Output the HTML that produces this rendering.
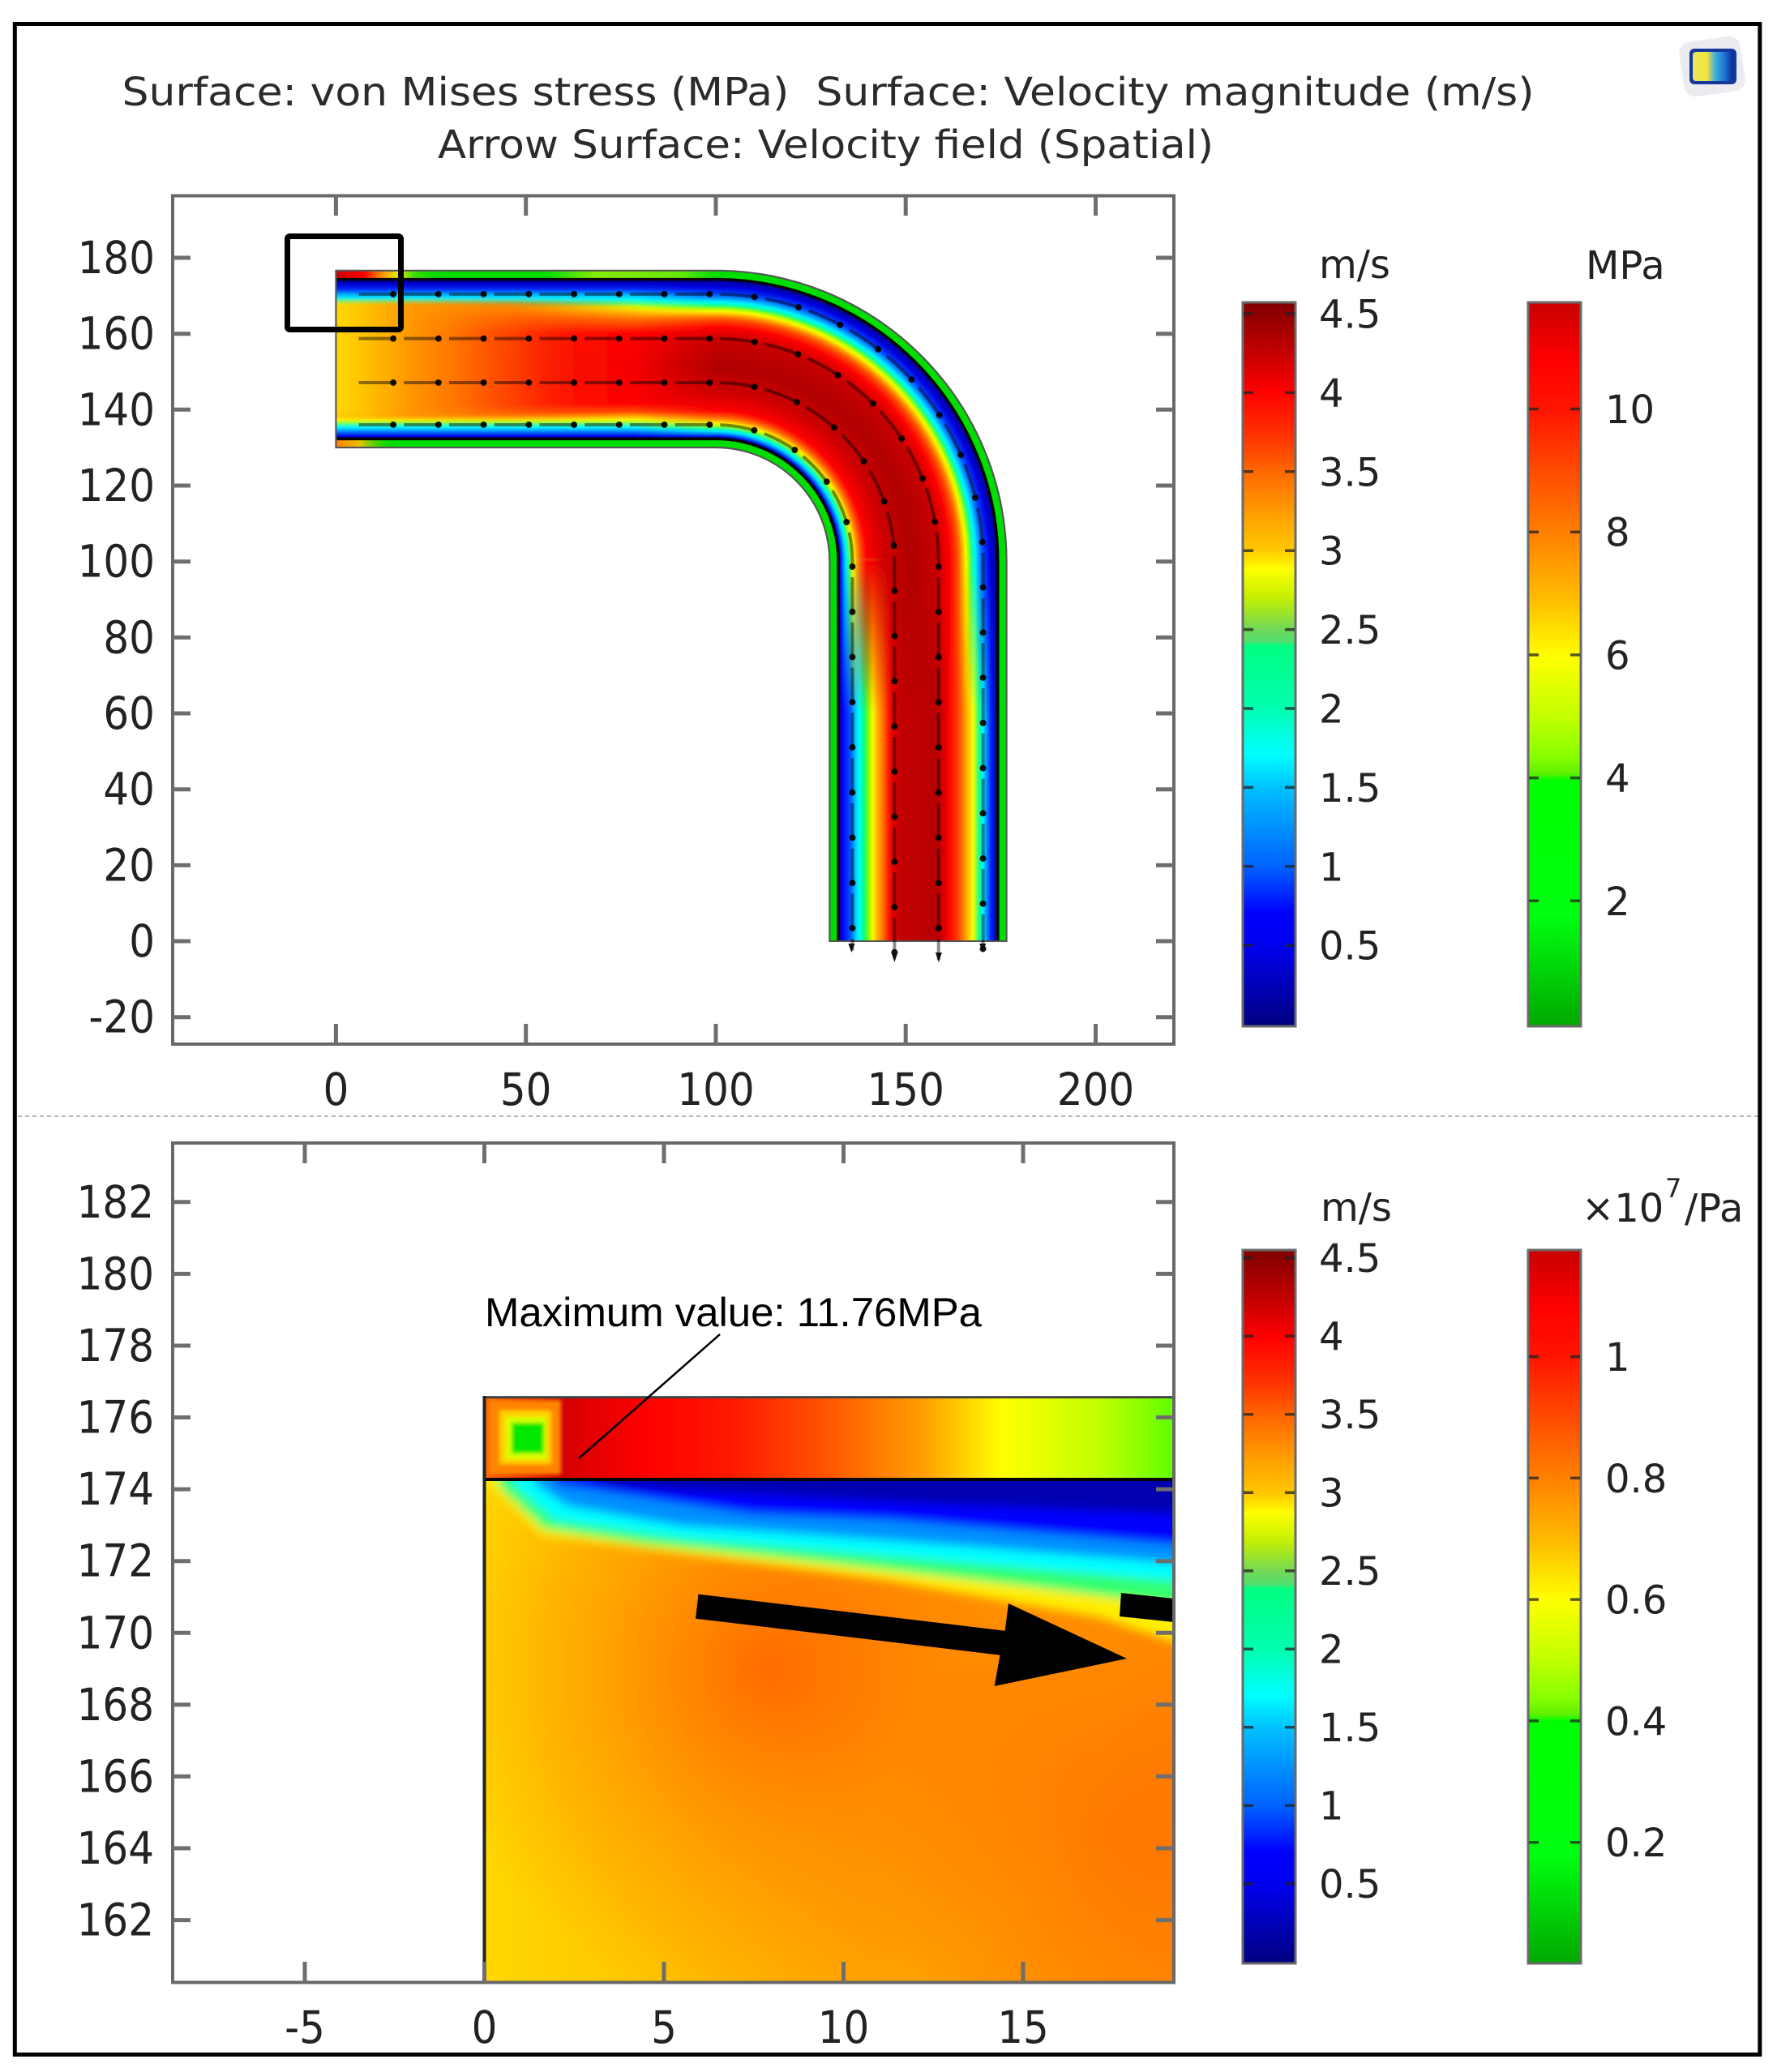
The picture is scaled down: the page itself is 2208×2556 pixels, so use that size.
<!DOCTYPE html>
<html><head><meta charset="utf-8"><style>html,body{margin:0;padding:0;background:#fff}svg{display:block}</style></head>
<body>
<svg xmlns="http://www.w3.org/2000/svg" xmlns:xlink="http://www.w3.org/1999/xlink" width="2208" height="2556" viewBox="0 0 2208 2556">
<defs>
  <linearGradient id="jet" x1="0" y1="0" x2="0" y2="1">
    <stop offset="0" stop-color="#7f0000"/><stop offset="0.077" stop-color="#cc0000"/>
    <stop offset="0.123" stop-color="#ff0000"/><stop offset="0.186" stop-color="#ff3300"/>
    <stop offset="0.232" stop-color="#ff6600"/><stop offset="0.287" stop-color="#ff9900"/>
    <stop offset="0.342" stop-color="#ffc800"/><stop offset="0.368" stop-color="#ffff00"/>
    <stop offset="0.406" stop-color="#c8f000"/><stop offset="0.452" stop-color="#70d858"/>
    <stop offset="0.469" stop-color="#50e070"/><stop offset="0.474" stop-color="#00ff80"/>
    <stop offset="0.561" stop-color="#00ffb0"/><stop offset="0.625" stop-color="#00ffff"/>
    <stop offset="0.671" stop-color="#00c0ff"/><stop offset="0.781" stop-color="#0060ff"/>
    <stop offset="0.844" stop-color="#0000ff"/><stop offset="0.89" stop-color="#0000ee"/>
    <stop offset="1" stop-color="#000080"/>
  </linearGradient>
  <linearGradient id="mpa" x1="0" y1="0" x2="0" y2="1">
    <stop offset="0" stop-color="#c80000"/><stop offset="0.082" stop-color="#ff0000"/>
    <stop offset="0.15" stop-color="#ff1500"/><stop offset="0.241" stop-color="#ff5000"/>
    <stop offset="0.32" stop-color="#ff8000"/><stop offset="0.408" stop-color="#ffbb00"/>
    <stop offset="0.49" stop-color="#ffff00"/><stop offset="0.575" stop-color="#c0ff00"/>
    <stop offset="0.628" stop-color="#88ff00"/><stop offset="0.651" stop-color="#60f000"/>
    <stop offset="0.66" stop-color="#00ff00"/><stop offset="0.847" stop-color="#00ff10"/>
    <stop offset="1" stop-color="#00a800"/>
  </linearGradient>

  <linearGradient id="gH" gradientUnits="userSpaceOnUse" x1="0" y1="132.3" x2="0" y2="174.3">
    <stop offset="0" stop-color="#000090"/><stop offset="0.02" stop-color="#0000ff"/>
    <stop offset="0.045" stop-color="#0080ff"/><stop offset="0.075" stop-color="#00ffff"/>
    <stop offset="0.1" stop-color="#80ff40"/><stop offset="0.12" stop-color="#ffff00"/>
    <stop offset="0.145" stop-color="#ffa000"/><stop offset="0.17" stop-color="#ff5000"/>
    <stop offset="0.22" stop-color="#ff0000"/><stop offset="0.45" stop-color="#f40000"/>
    <stop offset="0.66" stop-color="#ff0000"/><stop offset="0.71" stop-color="#ff4000"/>
    <stop offset="0.76" stop-color="#ff8000"/><stop offset="0.81" stop-color="#ffe000"/>
    <stop offset="0.83" stop-color="#d0ff00"/><stop offset="0.85" stop-color="#40ff80"/>
    <stop offset="0.875" stop-color="#00ffff"/><stop offset="0.905" stop-color="#00b0ff"/>
    <stop offset="0.935" stop-color="#0030ff"/><stop offset="0.97" stop-color="#0000d0"/>
    <stop offset="1" stop-color="#000090"/>
  </linearGradient>
  <linearGradient id="gBL" gradientUnits="userSpaceOnUse" x1="0" y1="132.3" x2="0" y2="174.3">
    <stop offset="0" stop-color="#000090"/><stop offset="0.015" stop-color="#0000ff"/>
    <stop offset="0.035" stop-color="#00a0ff"/><stop offset="0.05" stop-color="#00ffff"/>
    <stop offset="0.065" stop-color="#00ff80"/><stop offset="0.08" stop-color="#a0ff00"/>
    <stop offset="0.095" stop-color="#ffff00"/><stop offset="0.115" stop-color="#ffa000"/>
    <stop offset="0.14" stop-color="#ff5000"/><stop offset="0.175" stop-color="#ff0000"/>
    <stop offset="0.28" stop-color="#d00000"/><stop offset="0.45" stop-color="#b00000"/>
    <stop offset="0.62" stop-color="#c80000"/><stop offset="0.7" stop-color="#ff0000"/>
    <stop offset="0.75" stop-color="#ff5000"/><stop offset="0.775" stop-color="#ffa000"/>
    <stop offset="0.8" stop-color="#ffff00"/><stop offset="0.82" stop-color="#80ff00"/>
    <stop offset="0.835" stop-color="#00ff80"/><stop offset="0.855" stop-color="#00ffff"/>
    <stop offset="0.88" stop-color="#00a0ff"/><stop offset="0.91" stop-color="#0040ff"/>
    <stop offset="0.95" stop-color="#0000e0"/><stop offset="1" stop-color="#000090"/>
  </linearGradient>
  <linearGradient id="gBV" xlink:href="#gBL" gradientUnits="userSpaceOnUse" x1="132.3" y1="0" x2="174.3" y2="0"/>
  <radialGradient id="gB" gradientUnits="userSpaceOnUse" cx="100" cy="100" r="74.3" fx="100" fy="100">
    <stop offset="0.43472" stop-color="#000090"/><stop offset="0.44455" stop-color="#0000ff"/>
    <stop offset="0.45451" stop-color="#00a0ff"/><stop offset="0.46299" stop-color="#00ffff"/>
    <stop offset="0.47147" stop-color="#00ff80"/><stop offset="0.47995" stop-color="#a0ff00"/>
    <stop offset="0.48843" stop-color="#ffff00"/><stop offset="0.49973" stop-color="#ffa000"/>
    <stop offset="0.51386" stop-color="#ff5000"/><stop offset="0.53365" stop-color="#ff0000"/>
    <stop offset="0.593" stop-color="#d00000"/><stop offset="0.6891" stop-color="#b00000"/>
    <stop offset="0.7852" stop-color="#c80000"/><stop offset="0.83042" stop-color="#ff0000"/>
    <stop offset="0.85868" stop-color="#ff5000"/><stop offset="0.87281" stop-color="#ffa000"/>
    <stop offset="0.88694" stop-color="#ffff00"/><stop offset="0.89825" stop-color="#80ff00"/>
    <stop offset="0.90673" stop-color="#00ff80"/><stop offset="0.91803" stop-color="#00ffff"/>
    <stop offset="0.93217" stop-color="#00a0ff"/><stop offset="0.94913" stop-color="#0040ff"/>
    <stop offset="0.97174" stop-color="#0000e0"/><stop offset="1" stop-color="#000090"/>
  </radialGradient>
  <linearGradient id="gV" gradientUnits="userSpaceOnUse" x1="132.3" y1="0" x2="174.3" y2="0">
    <stop offset="0" stop-color="#000090"/><stop offset="0.03" stop-color="#0000ff"/>
    <stop offset="0.08" stop-color="#0060ff"/><stop offset="0.105" stop-color="#00c0ff"/>
    <stop offset="0.13" stop-color="#00ffff"/><stop offset="0.16" stop-color="#00ff80"/>
    <stop offset="0.19" stop-color="#80ff00"/><stop offset="0.215" stop-color="#ffff00"/>
    <stop offset="0.245" stop-color="#ffb000"/><stop offset="0.28" stop-color="#ff7000"/>
    <stop offset="0.31" stop-color="#ff2000"/><stop offset="0.34" stop-color="#e00000"/>
    <stop offset="0.4" stop-color="#c00000"/><stop offset="0.62" stop-color="#b80000"/>
    <stop offset="0.67" stop-color="#e00000"/><stop offset="0.71" stop-color="#ff1000"/>
    <stop offset="0.75" stop-color="#ff4000"/><stop offset="0.785" stop-color="#ff8000"/>
    <stop offset="0.82" stop-color="#ffd000"/><stop offset="0.845" stop-color="#ffff00"/>
    <stop offset="0.865" stop-color="#80ff40"/><stop offset="0.885" stop-color="#00ff90"/>
    <stop offset="0.905" stop-color="#00ffff"/><stop offset="0.925" stop-color="#00a0ff"/>
    <stop offset="0.955" stop-color="#0020ff"/><stop offset="1" stop-color="#000090"/>
  </linearGradient>
  <linearGradient id="gIn" gradientUnits="userSpaceOnUse" x1="0" y1="0" x2="80" y2="0">
    <stop offset="0" stop-color="#ffd800"/><stop offset="0.1" stop-color="#ffc000"/>
    <stop offset="0.225" stop-color="#ff9c00"/>
    <stop offset="0.4" stop-color="#ff8000" stop-opacity="0.9"/>
    <stop offset="0.59" stop-color="#ff5a00" stop-opacity="0.7"/>
    <stop offset="0.8" stop-color="#ff3000" stop-opacity="0.3"/>
    <stop offset="1" stop-color="#ff2000" stop-opacity="0"/>
  </linearGradient>
  <linearGradient id="rampH" gradientUnits="userSpaceOnUse" x1="78" y1="0" x2="100" y2="0">
    <stop offset="0" stop-color="#000"/><stop offset="1" stop-color="#fff"/>
  </linearGradient>
  <linearGradient id="rampV" gradientUnits="userSpaceOnUse" x1="0" y1="60" x2="0" y2="100">
    <stop offset="0" stop-color="#000"/><stop offset="1" stop-color="#fff"/>
  </linearGradient>
  <linearGradient id="rampIn" gradientUnits="userSpaceOnUse" x1="0" y1="132.3" x2="0" y2="174.3">
    <stop offset="0" stop-color="#000"/><stop offset="0.1" stop-color="#000"/>
    <stop offset="0.16" stop-color="#fff"/><stop offset="0.84" stop-color="#fff"/>
    <stop offset="0.885" stop-color="#000"/><stop offset="1" stop-color="#000"/>
  </linearGradient>
  <mask id="mH" maskUnits="userSpaceOnUse" x="55" y="125" width="50" height="55">
    <rect x="60" y="125" width="40.5" height="55" fill="url(#rampH)"/>
  </mask>
  <mask id="mV" maskUnits="userSpaceOnUse" x="125" y="55" width="55" height="50">
    <rect x="125" y="60" width="55" height="40.5" fill="url(#rampV)"/>
  </mask>
  <mask id="mIn" maskUnits="userSpaceOnUse" x="-2" y="128" width="85" height="50">
    <rect x="-2" y="132.3" width="85" height="42" fill="url(#rampIn)"/>
  </mask>
  <linearGradient id="wTop" gradientUnits="userSpaceOnUse" x1="0" y1="0" x2="30" y2="0">
    <stop offset="0" stop-color="#d00000"/><stop offset="0.25" stop-color="#ff0000"/>
    <stop offset="0.4" stop-color="#ff9000"/><stop offset="0.55" stop-color="#e0f000"/>
    <stop offset="0.7" stop-color="#60e000" stop-opacity="0.6"/><stop offset="1" stop-color="#00dd00" stop-opacity="0"/>
  </linearGradient>
  <linearGradient id="wTop2" gradientUnits="userSpaceOnUse" x1="55" y1="0" x2="100" y2="0">
    <stop offset="0" stop-color="#c0f000" stop-opacity="0"/><stop offset="0.3" stop-color="#c0f000" stop-opacity="0.7"/>
    <stop offset="0.8" stop-color="#a8f000" stop-opacity="0.6"/><stop offset="1" stop-color="#a0f000" stop-opacity="0"/>
  </linearGradient>
  <linearGradient id="wBot" gradientUnits="userSpaceOnUse" x1="0" y1="0" x2="16" y2="0">
    <stop offset="0" stop-color="#ff8000"/><stop offset="0.4" stop-color="#ffc000" stop-opacity="0.9"/>
    <stop offset="1" stop-color="#00dd00" stop-opacity="0"/>
  </linearGradient>
  <clipPath id="cOuter"><path d="M0 130H100A30 30 0 0 0 130 100V0H176.6V100A76.6 76.6 0 0 1 100 176.6H0Z"/></clipPath>
  <clipPath id="cFluid"><path d="M0 132.3H100A32.3 32.3 0 0 0 132.3 100V0H174.3V100A74.3 74.3 0 0 1 100 174.3H0Z"/></clipPath>
  <filter id="fbT" x="-10%" y="-10%" width="120%" height="120%"><feGaussianBlur stdDeviation="0.3"/></filter>

  <linearGradient id="wallB" gradientUnits="userSpaceOnUse" x1="597.5" y1="0" x2="1448" y2="0">
    <stop offset="0" stop-color="#ff6000"/><stop offset="0.005" stop-color="#ff6000"/>
    <stop offset="0.111" stop-color="#d00000"/><stop offset="0.144" stop-color="#e00000"/>
    <stop offset="0.238" stop-color="#ff0000"/><stop offset="0.356" stop-color="#ff1800"/>
    <stop offset="0.486" stop-color="#ff5000"/><stop offset="0.638" stop-color="#ffa000"/>
    <stop offset="0.75" stop-color="#ffff00"/><stop offset="0.892" stop-color="#c0ff00"/>
    <stop offset="1" stop-color="#60ff00"/>
  </linearGradient>
  <linearGradient id="bulkG" gradientUnits="userSpaceOnUse" x1="597.5" y1="0" x2="1448" y2="0">
    <stop offset="0" stop-color="#ffd800"/><stop offset="0.25" stop-color="#ffc400"/>
    <stop offset="0.55" stop-color="#ffa400"/><stop offset="1" stop-color="#ff8c00"/>
  </linearGradient>
  <radialGradient id="r1" gradientUnits="userSpaceOnUse" cx="950" cy="2060" r="420">
    <stop offset="0" stop-color="#ff5a00" stop-opacity="0.8"/><stop offset="0.5" stop-color="#ff6a00" stop-opacity="0.4"/>
    <stop offset="1" stop-color="#ff6a00" stop-opacity="0"/>
  </radialGradient>
  <radialGradient id="r2" gradientUnits="userSpaceOnUse" cx="1400" cy="2260" r="320">
    <stop offset="0" stop-color="#ff6400" stop-opacity="0.55"/><stop offset="1" stop-color="#ff6400" stop-opacity="0"/>
  </radialGradient>
  <clipPath id="cBF"><rect x="599" y="1825" width="849" height="620"/></clipPath>
  <filter id="blurBL" filterUnits="userSpaceOnUse" x="540" y="1760" width="980" height="360"><feGaussianBlur stdDeviation="6"/></filter>
  <filter id="blurSq" filterUnits="userSpaceOnUse" x="580" y="1700" width="140" height="140"><feGaussianBlur stdDeviation="2.5"/></filter>
  <clipPath id="cSq"><rect x="599" y="1724" width="849" height="101"/></clipPath>
  <linearGradient id="logoG" x1="0" y1="0" x2="1" y2="0">
    <stop offset="0" stop-color="#e8e860"/><stop offset="0.35" stop-color="#f5e43a"/>
    <stop offset="0.55" stop-color="#40b0e0"/><stop offset="0.8" stop-color="#1a70d0"/>
    <stop offset="1" stop-color="#0a2a90"/>
  </linearGradient>
</defs>

<rect x="0" y="0" width="2208" height="2556" fill="#fff"/>
<rect x="18.3" y="29.5" width="2152.5" height="2505" fill="none" stroke="#000" stroke-width="5"/>

<g font-family="DejaVu Sans, Liberation Sans, sans-serif" fill="#2b2b2b" font-size="48">
  <text x="150.5" y="130" textLength="1742" lengthAdjust="spacingAndGlyphs">Surface: von Mises stress (MPa)&#160; Surface: Velocity magnitude (m/s)</text>
  <text x="540" y="195" textLength="957" lengthAdjust="spacingAndGlyphs">Arrow Surface: Velocity field (Spatial)</text>
</g>

<g>
  <rect x="2074" y="48" width="76" height="68" rx="14" fill="#ececf0" transform="rotate(-8 2112 82)"/>
  <rect x="2084" y="60" width="58" height="44" rx="6" fill="#16379e"/>
  <rect x="2088" y="64" width="50" height="36" rx="4" fill="url(#logoG)"/>
</g>

<!-- ============ TOP PLOT ============ -->
<g transform="matrix(4.684 0 0 -4.684 414.4 1161)">
  <path d="M0 130H100A30 30 0 0 0 130 100V0H176.6V100A76.6 76.6 0 0 1 100 176.6H0Z" fill="#00dd00"/>
  <g clip-path="url(#cOuter)">
    <rect x="0" y="173.5" width="30" height="4" fill="url(#wTop)"/>
    <rect x="55" y="173.5" width="45" height="4" fill="url(#wTop2)"/>
    <rect x="0" y="129" width="16" height="4" fill="url(#wBot)"/>
  </g>
  <g clip-path="url(#cFluid)">
    <g filter="url(#fbT)">
      <rect x="-1" y="131" width="101.5" height="44.6" fill="url(#gH)"/>
      <rect x="60" y="131" width="40.5" height="44.6" fill="url(#gBL)" mask="url(#mH)"/>
      <path d="M100 131A31 31 0 0 0 131 100L175.6 100A75.6 75.6 0 0 1 100 175.6Z" fill="url(#gB)"/>
      <rect x="131" y="-1" width="44.6" height="101.5" fill="url(#gV)"/>
      <rect x="131" y="60" width="44.6" height="40.5" fill="url(#gBV)" mask="url(#mV)"/>
      <rect x="-2" y="132.3" width="85" height="42" fill="url(#gIn)" mask="url(#mIn)"/>
    </g>
  </g>
  <g fill="none" stroke="#050505" stroke-width="0.75">
    <path d="M0 174.3H100A74.3 74.3 0 0 0 174.3 100V0"/>
    <path d="M0 132.3H100A32.3 32.3 0 0 0 132.3 100V0"/>
  </g>
  <path d="M0 130H100A30 30 0 0 0 130 100V0H176.6V100A76.6 76.6 0 0 1 100 176.6H0Z" fill="none" stroke="#555" stroke-width="0.45"/>
  <g fill="none" stroke="#000">
    <path stroke-width="0.85" stroke-opacity="0.45" stroke-dasharray="9.4 2.5" d="M6 136H100A36 36 0 0 0 136 100V-2.5M6 147.1H100A47.1 47.1 0 0 0 147.1 100V-5M6 158.7H100A58.7 58.7 0 0 0 158.7 100V-5M6 170.4H100A70.4 70.4 0 0 0 170.4 100V-2.5"/>
    <path stroke-width="1.7" stroke-opacity="0.9" stroke-linecap="round" stroke-dasharray="0 11.9" stroke-dashoffset="2.8" d="M6 136H100A36 36 0 0 0 136 100V-2.5M6 147.1H100A47.1 47.1 0 0 0 147.1 100V-5M6 158.7H100A58.7 58.7 0 0 0 158.7 100V-5M6 170.4H100A70.4 70.4 0 0 0 170.4 100V-2.5"/>
  </g>
</g>
<g fill="#111">
  <polygon points="1046.4,1164 1054.4,1164 1050.4,1175"/>
  <polygon points="1099.4,1175 1107.4,1175 1103.4,1187"/>
  <polygon points="1153.9,1175 1161.9,1175 1157.9,1187"/>
  <polygon points="1208.2,1164 1216.2,1164 1212.2,1175"/>
</g>
<rect x="354.5" y="291.5" width="140" height="115" rx="3" fill="none" stroke="#000" stroke-width="7"/>

<rect x="213" y="241.5" width="1235" height="1046.5" fill="none" stroke="#686868" stroke-width="4"/>
<path fill="none" stroke="#6e6e6e" stroke-width="5" d="
M414.4 1288V1263M414.4 241.5V266M648.7 1288V1263M648.7 241.5V266M883 1288V1263M883 241.5V266M1117.2 1288V1263M1117.2 241.5V266M1351.5 1288V1263M1351.5 241.5V266
M213 318H235M1448 318H1426M213 411.7H235M1448 411.7H1426M213 505.3H235M1448 505.3H1426M213 599H235M1448 599H1426M213 692.7H235M1448 692.7H1426M213 786.4H235M1448 786.4H1426M213 880H235M1448 880H1426M213 973.7H235M1448 973.7H1426M213 1067.4H235M1448 1067.4H1426M213 1161H235M1448 1161H1426M213 1254.7H235M1448 1254.7H1426"/>
<g font-family="DejaVu Sans, Liberation Sans, sans-serif" fill="#222" font-size="55">
  <text x="95.6" y="337" textLength="95.4" lengthAdjust="spacingAndGlyphs">180</text>
  <text x="95.6" y="430.7" textLength="95.4" lengthAdjust="spacingAndGlyphs">160</text>
  <text x="95.6" y="524.3" textLength="95.4" lengthAdjust="spacingAndGlyphs">140</text>
  <text x="95.6" y="618" textLength="95.4" lengthAdjust="spacingAndGlyphs">120</text>
  <text x="95.6" y="711.7" textLength="95.4" lengthAdjust="spacingAndGlyphs">100</text>
  <text x="127.4" y="805.4" textLength="63.6" lengthAdjust="spacingAndGlyphs">80</text>
  <text x="127.4" y="899" textLength="63.6" lengthAdjust="spacingAndGlyphs">60</text>
  <text x="127.4" y="992.7" textLength="63.6" lengthAdjust="spacingAndGlyphs">40</text>
  <text x="127.4" y="1086.4" textLength="63.6" lengthAdjust="spacingAndGlyphs">20</text>
  <text x="159.2" y="1180" textLength="31.8" lengthAdjust="spacingAndGlyphs">0</text>
  <text x="109.4" y="1273.7" textLength="81.6" lengthAdjust="spacingAndGlyphs">-20</text>
  <text x="398.5" y="1363" textLength="31.8" lengthAdjust="spacingAndGlyphs">0</text>
  <text x="616.9" y="1363" textLength="63.6" lengthAdjust="spacingAndGlyphs">50</text>
  <text x="835.3" y="1363" textLength="95.4" lengthAdjust="spacingAndGlyphs">100</text>
  <text x="1069.5" y="1363" textLength="95.4" lengthAdjust="spacingAndGlyphs">150</text>
  <text x="1303.8" y="1363" textLength="95.4" lengthAdjust="spacingAndGlyphs">200</text>
</g>

<rect x="1533" y="373" width="65" height="893" fill="url(#jet)" stroke="#6a6a6a" stroke-width="3"/>
<rect x="1885" y="373" width="65" height="893" fill="url(#mpa)" stroke="#6a6a6a" stroke-width="3"/>
<path fill="none" stroke="#222" stroke-opacity="0.75" stroke-width="3.5" d="
M1534 387H1546M1585 387H1597M1534 484.4H1546M1585 484.4H1597M1534 581.8H1546M1585 581.8H1597M1534 679.2H1546M1585 679.2H1597M1534 776.6H1546M1585 776.6H1597M1534 874H1546M1585 874H1597M1534 971.4H1546M1585 971.4H1597M1534 1068.8H1546M1585 1068.8H1597M1534 1166.2H1546M1585 1166.2H1597
M1886 504.5H1898M1937 504.5H1949M1886 656.2H1898M1937 656.2H1949M1886 807.9H1898M1937 807.9H1949M1886 959.6H1898M1937 959.6H1949M1886 1111.3H1898M1937 1111.3H1949"/>
<g font-family="DejaVu Sans, Liberation Sans, sans-serif" fill="#222" font-size="48">
  <text x="1627" y="343">m/s</text>
  <text x="1956" y="344">MPa</text>
  <text x="1627" y="404.5">4.5</text>
  <text x="1627" y="501.9">4</text>
  <text x="1627" y="599.3">3.5</text>
  <text x="1627" y="696.7">3</text>
  <text x="1627" y="794.1">2.5</text>
  <text x="1627" y="891.5">2</text>
  <text x="1627" y="988.9">1.5</text>
  <text x="1627" y="1086.3">1</text>
  <text x="1627" y="1183.7">0.5</text>
  <text x="1980" y="522">10</text>
  <text x="1980" y="673.7">8</text>
  <text x="1980" y="825.4">6</text>
  <text x="1980" y="977.1">4</text>
  <text x="1980" y="1128.8">2</text>
</g>

<line x1="22" y1="1377" x2="2168" y2="1377" stroke="#9a9a9a" stroke-width="1.5" stroke-dasharray="5 4"/>

<!-- ============ BOTTOM PLOT ============ -->
<rect x="597.5" y="1723.6" width="850.5" height="101.4" fill="url(#wallB)"/>
<g clip-path="url(#cSq)">
  <g filter="url(#blurSq)">
    <rect x="602" y="1727" width="90" height="92" fill="#ff8400"/>
    <rect x="616" y="1740" width="64" height="66" fill="#ffd000"/>
    <rect x="624" y="1748" width="50" height="52" fill="#d8ff00"/>
    <rect x="631" y="1755" width="40" height="38" fill="#00e800"/>
  </g>
</g>
<rect x="597.5" y="1825" width="850.5" height="620" fill="url(#bulkG)"/>
<rect x="597.5" y="1825" width="850.5" height="620" fill="url(#r1)"/>
<rect x="597.5" y="1825" width="850.5" height="620" fill="url(#r2)"/>
<g clip-path="url(#cBF)">
  <g filter="url(#blurBL)">
    <polygon fill="#ffee00" points="590,1810 1470,1810 1470,2030 1446,2025 1356,1995 1097.5,1950 865,1920 753,1905 667,1894 602,1830 590,1830"/>
    <polygon fill="#30ff70" points="615,1810 1470,1810 1470,1985 1446,1980 1270,1957.6 1011,1927.6 796,1905 671,1886 615,1834"/>
    <polygon fill="#00ffff" points="632,1810 1470,1810 1470,1952 1446,1950 1184,1927.6 1011,1912.6 839,1897.6 684,1875 632,1830"/>
    <polygon fill="#0090ff" points="660,1810 1470,1810 1470,1930 1446,1928 1200,1908 1011,1894 839,1882 700,1858 660,1830"/>
    <polygon fill="#0000ff" points="684,1810 1470,1810 1470,1907 1446,1905 1270,1890 1097.5,1875 925,1867.6 753,1841.4 684,1830"/>
    <polygon fill="#0000b0" points="736,1810 1470,1810 1470,1870 1446,1867.6 1097.5,1852.6 839,1837.6 736,1830"/>
  </g>
</g>
<line x1="597.5" y1="1723.6" x2="1448" y2="1723.6" stroke="#444" stroke-width="3"/>
<line x1="597.5" y1="1825" x2="1448" y2="1825" stroke="#050505" stroke-width="4"/>
<line x1="597.5" y1="1722" x2="597.5" y2="2445" stroke="#222" stroke-width="4"/>
<polygon fill="#000" points="861.5,1966.6 1239.6,2011.7 1244,1978 1390,2046 1226.7,2080 1233.5,2041.7 858,1996.7"/>
<polygon fill="#000" points="1383,1965 1448,1972 1448,2001 1381,1994"/>
<line x1="888" y1="1646" x2="714" y2="1799" stroke="#000" stroke-width="2.5"/>
<text x="598" y="1636" font-family="Liberation Sans, Arial, sans-serif" font-size="50" fill="#000" textLength="613" lengthAdjust="spacingAndGlyphs">Maximum value: 11.76MPa</text>

<rect x="213" y="1410" width="1235" height="1035.5" fill="none" stroke="#686868" stroke-width="4"/>
<path fill="none" stroke="#6e6e6e" stroke-width="5" d="
M376 2445.5V2420M376 1410V1435M597.5 2445.5V2420M597.5 1410V1435M819 2445.5V2420M819 1410V1435M1040.5 2445.5V2420M1040.5 1410V1435M1262 2445.5V2420M1262 1410V1435
M213 1482.8H235M1448 1482.8H1426M213 1571.4H235M1448 1571.4H1426M213 1660H235M1448 1660H1426M213 1748.5H235M1448 1748.5H1426M213 1837.1H235M1448 1837.1H1426M213 1925.7H235M1448 1925.7H1426M213 2014.3H235M1448 2014.3H1426M213 2102.9H235M1448 2102.9H1426M213 2191.4H235M1448 2191.4H1426M213 2280H235M1448 2280H1426M213 2368.6H235M1448 2368.6H1426"/>
<g font-family="DejaVu Sans, Liberation Sans, sans-serif" fill="#222" font-size="55">
  <text x="94.6" y="1501.8" textLength="95.4" lengthAdjust="spacingAndGlyphs">182</text>
  <text x="94.6" y="1590.4" textLength="95.4" lengthAdjust="spacingAndGlyphs">180</text>
  <text x="94.6" y="1679" textLength="95.4" lengthAdjust="spacingAndGlyphs">178</text>
  <text x="94.6" y="1767.5" textLength="95.4" lengthAdjust="spacingAndGlyphs">176</text>
  <text x="94.6" y="1856.1" textLength="95.4" lengthAdjust="spacingAndGlyphs">174</text>
  <text x="94.6" y="1944.7" textLength="95.4" lengthAdjust="spacingAndGlyphs">172</text>
  <text x="94.6" y="2033.3" textLength="95.4" lengthAdjust="spacingAndGlyphs">170</text>
  <text x="94.6" y="2121.9" textLength="95.4" lengthAdjust="spacingAndGlyphs">168</text>
  <text x="94.6" y="2210.4" textLength="95.4" lengthAdjust="spacingAndGlyphs">166</text>
  <text x="94.6" y="2299" textLength="95.4" lengthAdjust="spacingAndGlyphs">164</text>
  <text x="94.6" y="2387.6" textLength="95.4" lengthAdjust="spacingAndGlyphs">162</text>
  <text x="351.1" y="2520" textLength="49.8" lengthAdjust="spacingAndGlyphs">-5</text>
  <text x="581.6" y="2520" textLength="31.8" lengthAdjust="spacingAndGlyphs">0</text>
  <text x="803.1" y="2520" textLength="31.8" lengthAdjust="spacingAndGlyphs">5</text>
  <text x="1008.7" y="2520" textLength="63.6" lengthAdjust="spacingAndGlyphs">10</text>
  <text x="1230.2" y="2520" textLength="63.6" lengthAdjust="spacingAndGlyphs">15</text>
</g>

<rect x="1533" y="1542" width="65" height="880" fill="url(#jet)" stroke="#6a6a6a" stroke-width="3"/>
<rect x="1885" y="1542" width="65" height="880" fill="url(#mpa)" stroke="#6a6a6a" stroke-width="3"/>
<path fill="none" stroke="#222" stroke-opacity="0.75" stroke-width="3.5" d="
M1534 1551.7H1546M1585 1551.7H1597M1534 1648.2H1546M1585 1648.2H1597M1534 1744.7H1546M1585 1744.7H1597M1534 1841.2H1546M1585 1841.2H1597M1534 1937.7H1546M1585 1937.7H1597M1534 2034.2H1546M1585 2034.2H1597M1534 2130.7H1546M1585 2130.7H1597M1534 2227.2H1546M1585 2227.2H1597M1534 2323.7H1546M1585 2323.7H1597
M1886 1673.5H1898M1937 1673.5H1949M1886 1823.3H1898M1937 1823.3H1949M1886 1973.1H1898M1937 1973.1H1949M1886 2122.9H1898M1937 2122.9H1949M1886 2272.7H1898M1937 2272.7H1949"/>
<g font-family="DejaVu Sans, Liberation Sans, sans-serif" fill="#222" font-size="48">
  <text x="1629" y="1506">m/s</text>
  <text x="1951" y="1507">×10</text>
  <text x="2054" y="1477" font-size="32">7</text>
  <text x="2078" y="1507">/Pa</text>
  <text x="1627" y="1569.2">4.5</text>
  <text x="1627" y="1665.7">4</text>
  <text x="1627" y="1762.2">3.5</text>
  <text x="1627" y="1858.7">3</text>
  <text x="1627" y="1955.2">2.5</text>
  <text x="1627" y="2051.7">2</text>
  <text x="1627" y="2148.2">1.5</text>
  <text x="1627" y="2244.7">1</text>
  <text x="1627" y="2341.2">0.5</text>
  <text x="1980" y="1691">1</text>
  <text x="1980" y="1840.8">0.8</text>
  <text x="1980" y="1990.6">0.6</text>
  <text x="1980" y="2140.4">0.4</text>
  <text x="1980" y="2290.2">0.2</text>
</g>
</svg>
</body></html>
